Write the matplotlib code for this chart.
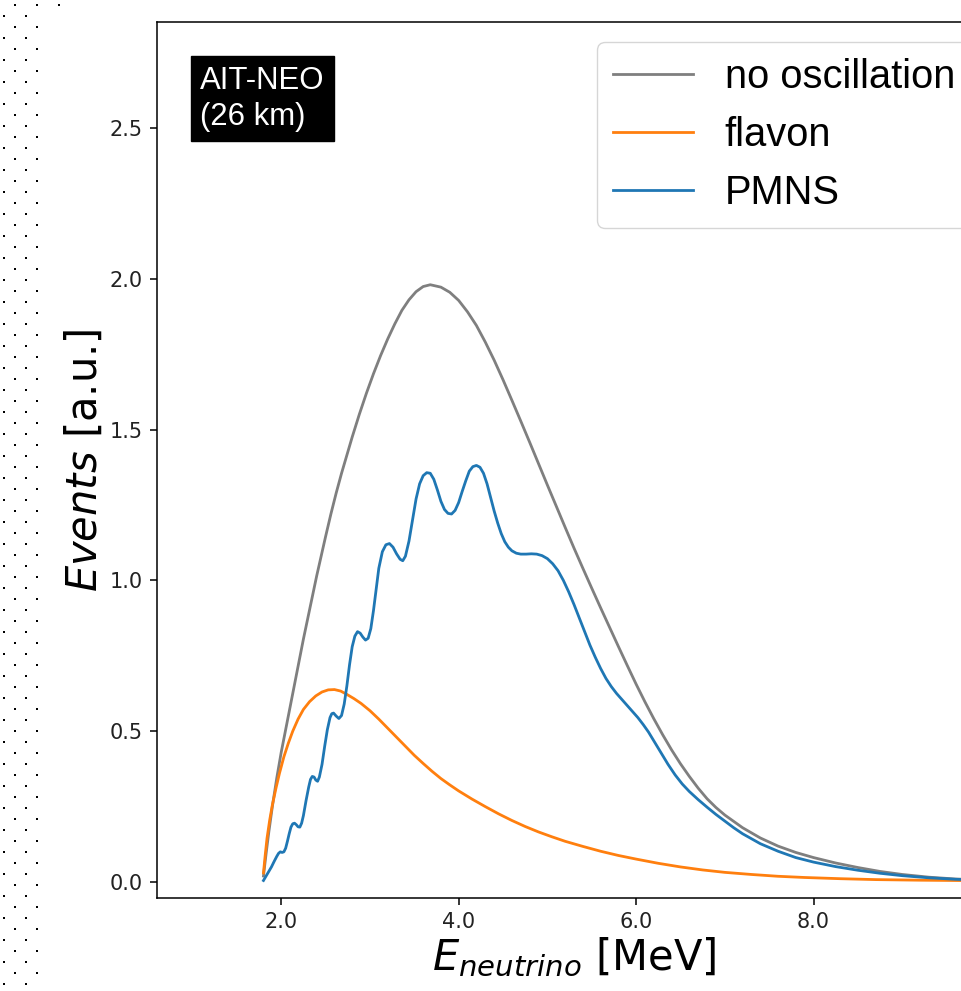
""" Reactor neutrino spectrum at AIT-NEO (26 km): no oscillation vs flavon vs PMNS """

import numpy as np
import matplotlib.pyplot as plt

# Energies (MeV) and event rates (a.u.)
e_noosc = [1.80, 1.83, 1.86, 1.90, 1.95, 2.00, 2.05, 2.10, 2.15, 2.20, 2.25, 2.30,
           2.35, 2.40, 2.45, 2.50, 2.56, 2.62, 2.68, 2.74, 2.80, 2.88, 2.96, 3.04,
           3.12, 3.20, 3.28, 3.36, 3.44, 3.52, 3.60, 3.68, 3.80, 3.90, 4.00, 4.10,
           4.20, 4.30, 4.40, 4.50, 4.60, 4.70, 4.80, 4.90, 5.00, 5.10, 5.20, 5.30,
           5.40, 5.50, 5.60, 5.70, 5.80, 5.90, 6.00, 6.10, 6.20, 6.30, 6.40, 6.50,
           6.60, 6.70, 6.80, 6.90, 7.00, 7.20, 7.40, 7.60, 7.80, 8.00, 8.25, 8.50,
           8.75, 9.00, 9.30, 9.60, 10.0]
ev_noosc = [0.02, 0.095, 0.165, 0.25, 0.345, 0.43, 0.505, 0.58, 0.655, 0.73, 0.805, 0.875,
            0.945, 1.015, 1.08, 1.145, 1.22, 1.29, 1.355, 1.415, 1.475, 1.55, 1.62, 1.685,
            1.745, 1.80, 1.85, 1.895, 1.93, 1.957, 1.974, 1.980, 1.972, 1.955, 1.928, 1.89,
            1.845, 1.79, 1.73, 1.665, 1.597, 1.528, 1.458, 1.387, 1.316, 1.246, 1.176, 1.107,
            1.04, 0.974, 0.909, 0.845, 0.781, 0.718, 0.656, 0.597, 0.541, 0.488, 0.438, 0.392,
            0.350, 0.311, 0.276, 0.247, 0.222, 0.180, 0.146, 0.119, 0.098, 0.081, 0.063, 0.048,
            0.035, 0.025, 0.016, 0.010, 0.006]

e_flavon = [1.80, 1.82, 1.84, 1.87, 1.90, 1.94, 1.98, 2.03, 2.08, 2.13, 2.19, 2.25,
            2.32, 2.39, 2.46, 2.53, 2.60, 2.67, 2.74, 2.82, 2.90, 3.00, 3.10, 3.20,
            3.30, 3.40, 3.50, 3.60, 3.70, 3.80, 3.90, 4.00, 4.15, 4.30, 4.45, 4.60,
            4.75, 4.90, 5.05, 5.20, 5.40, 5.60, 5.80, 6.00, 6.25, 6.50, 6.75, 7.00,
            7.30, 7.60, 7.90, 8.30, 8.70, 9.20, 10.0]
ev_flavon = [0.03, 0.09, 0.145, 0.205, 0.255, 0.31, 0.36, 0.415, 0.46, 0.50, 0.54, 0.572,
             0.598, 0.617, 0.630, 0.637, 0.638, 0.633, 0.622, 0.608, 0.592, 0.568, 0.540, 0.510,
             0.480, 0.450, 0.420, 0.393, 0.367, 0.343, 0.322, 0.302, 0.275, 0.250, 0.226, 0.204,
             0.184, 0.166, 0.150, 0.135, 0.118, 0.102, 0.088, 0.076, 0.062, 0.050, 0.040, 0.032,
             0.025, 0.019, 0.015, 0.011, 0.008, 0.006, 0.004]

e_pmns = [1.80, 1.83, 1.86, 1.89, 1.92, 1.95, 1.97, 1.99, 2.01, 2.03, 2.05, 2.07,
          2.09, 2.11, 2.13, 2.15, 2.17, 2.19, 2.21, 2.23, 2.25, 2.28, 2.31, 2.33,
          2.35, 2.37, 2.39, 2.41, 2.43, 2.46, 2.49, 2.52, 2.55, 2.57, 2.59, 2.62,
          2.65, 2.68, 2.71, 2.74, 2.77, 2.80, 2.83, 2.86, 2.89, 2.92, 2.95, 2.98,
          3.01, 3.04, 3.07, 3.10, 3.14, 3.18, 3.22, 3.26, 3.30, 3.34, 3.37, 3.40,
          3.44, 3.48, 3.52, 3.56, 3.60, 3.64, 3.68, 3.72, 3.76, 3.80, 3.84, 3.88,
          3.92, 3.96, 4.00, 4.04, 4.08, 4.12, 4.16, 4.20, 4.24, 4.28, 4.32, 4.36,
          4.40, 4.44, 4.48, 4.52, 4.56, 4.60, 4.65, 4.70, 4.76, 4.82, 4.88, 4.94,
          5.00, 5.06, 5.12, 5.18, 5.24, 5.30, 5.36, 5.42, 5.48, 5.54, 5.60, 5.66,
          5.72, 5.78, 5.84, 5.90, 5.96, 6.02, 6.08, 6.14, 6.20, 6.28, 6.36, 6.44,
          6.52, 6.60, 6.70, 6.80, 6.90, 7.00, 7.10, 7.20, 7.40, 7.60, 7.80, 8.00,
          8.25, 8.50, 8.75, 9.00, 9.30, 9.60, 10.0]
ev_pmns = [0.005, 0.02, 0.035, 0.05, 0.068, 0.085, 0.095, 0.100, 0.098, 0.100, 0.112, 0.135,
           0.160, 0.182, 0.193, 0.195, 0.190, 0.183, 0.182, 0.195, 0.22, 0.27, 0.315, 0.340,
           0.350, 0.348, 0.338, 0.334, 0.348, 0.39, 0.45, 0.505, 0.545, 0.558, 0.560, 0.550,
           0.542, 0.552, 0.59, 0.65, 0.72, 0.78, 0.815, 0.830, 0.825, 0.812, 0.802, 0.808,
           0.84, 0.90, 0.97, 1.04, 1.095, 1.118, 1.122, 1.110, 1.088, 1.070, 1.065, 1.080,
           1.13, 1.20, 1.27, 1.32, 1.347, 1.357, 1.355, 1.335, 1.300, 1.262, 1.235, 1.222,
           1.220, 1.232, 1.258, 1.295, 1.33, 1.362, 1.377, 1.381, 1.375, 1.355, 1.320, 1.275,
           1.23, 1.19, 1.155, 1.128, 1.110, 1.098, 1.090, 1.087, 1.087, 1.088, 1.087, 1.082,
           1.072, 1.055, 1.032, 1.000, 0.962, 0.920, 0.875, 0.830, 0.785, 0.745, 0.708, 0.675,
           0.648, 0.625, 0.605, 0.585, 0.565, 0.545, 0.522, 0.497, 0.468, 0.43, 0.39, 0.355,
           0.325, 0.300, 0.273, 0.248, 0.224, 0.202, 0.180, 0.160, 0.127, 0.102, 0.081, 0.066,
           0.051, 0.039, 0.029, 0.021, 0.014, 0.009, 0.005]

labels = ["no oscillation", "flavon", "PMNS"]
colors = ["#7f7f7f", "#ff7f0e", "#1f77b4"]

W, H = 961, 991
fig = plt.figure(figsize=(W / 100, H / 100), dpi=100)

# dotted slide background on the left edge
bg = fig.add_axes([0, 0, 1, 1], zorder=-1)
bg.set_xlim(0, W)
bg.set_ylim(H, 0)
bg.axis("off")
dx, dy = [], []
for k, yy in enumerate(np.arange(5, H, 11)):
    xs = [15, 37, 59] if k == 0 else ([15, 37] if k % 2 == 0 else [4, 26])
    dx += xs
    dy += [yy] * len(xs)
bg.scatter(dx, dy, s=3, marker="s", color="black", linewidths=0)

# main axes, right side runs off the cropped picture
ax = fig.add_axes([157 / W, (H - 898) / H, 834 / W, 876 / H])
ax.plot(e_noosc, ev_noosc, color=colors[0], lw=2.0, label=labels[0])
ax.plot(e_flavon, ev_flavon, color=colors[1], lw=2.0, label=labels[1])
ax.plot(e_pmns, ev_pmns, color=colors[2], lw=2.0, label=labels[2])

ax.set_xlim(0.6, 10.0)
ax.set_ylim(-0.053, 2.851)
ax.set_xticks([2, 4, 6, 8, 10])
ax.set_xticklabels(["2.0", "4.0", "6.0", "8.0", "10.0"])
ax.set_yticks([0, 0.5, 1.0, 1.5, 2.0, 2.5])
ax.tick_params(labelsize=15, length=5, width=1.1, pad=5, labelcolor="#222222")
for sp in ax.spines.values():
    sp.set_linewidth(1.1)

ax.set_xlabel("$E_{neutrino}$ [MeV]", fontsize=30, labelpad=3)
ax.set_ylabel("$Events$ [a.u.]", fontsize=30, labelpad=3)

ax.text(0.0516, 0.950, "AIT-NEO\n(26 km)", transform=ax.transAxes, va="top", ha="left",
        color="white", fontsize=22.4, family="Liberation Sans", linespacing=1.25,
        bbox=dict(boxstyle="square,pad=0.3", fc="black", ec="black"))

ax.legend(loc="upper right", prop={"family": "Liberation Sans", "size": 28.7})

fig.savefig("out.png", dpi=100)
